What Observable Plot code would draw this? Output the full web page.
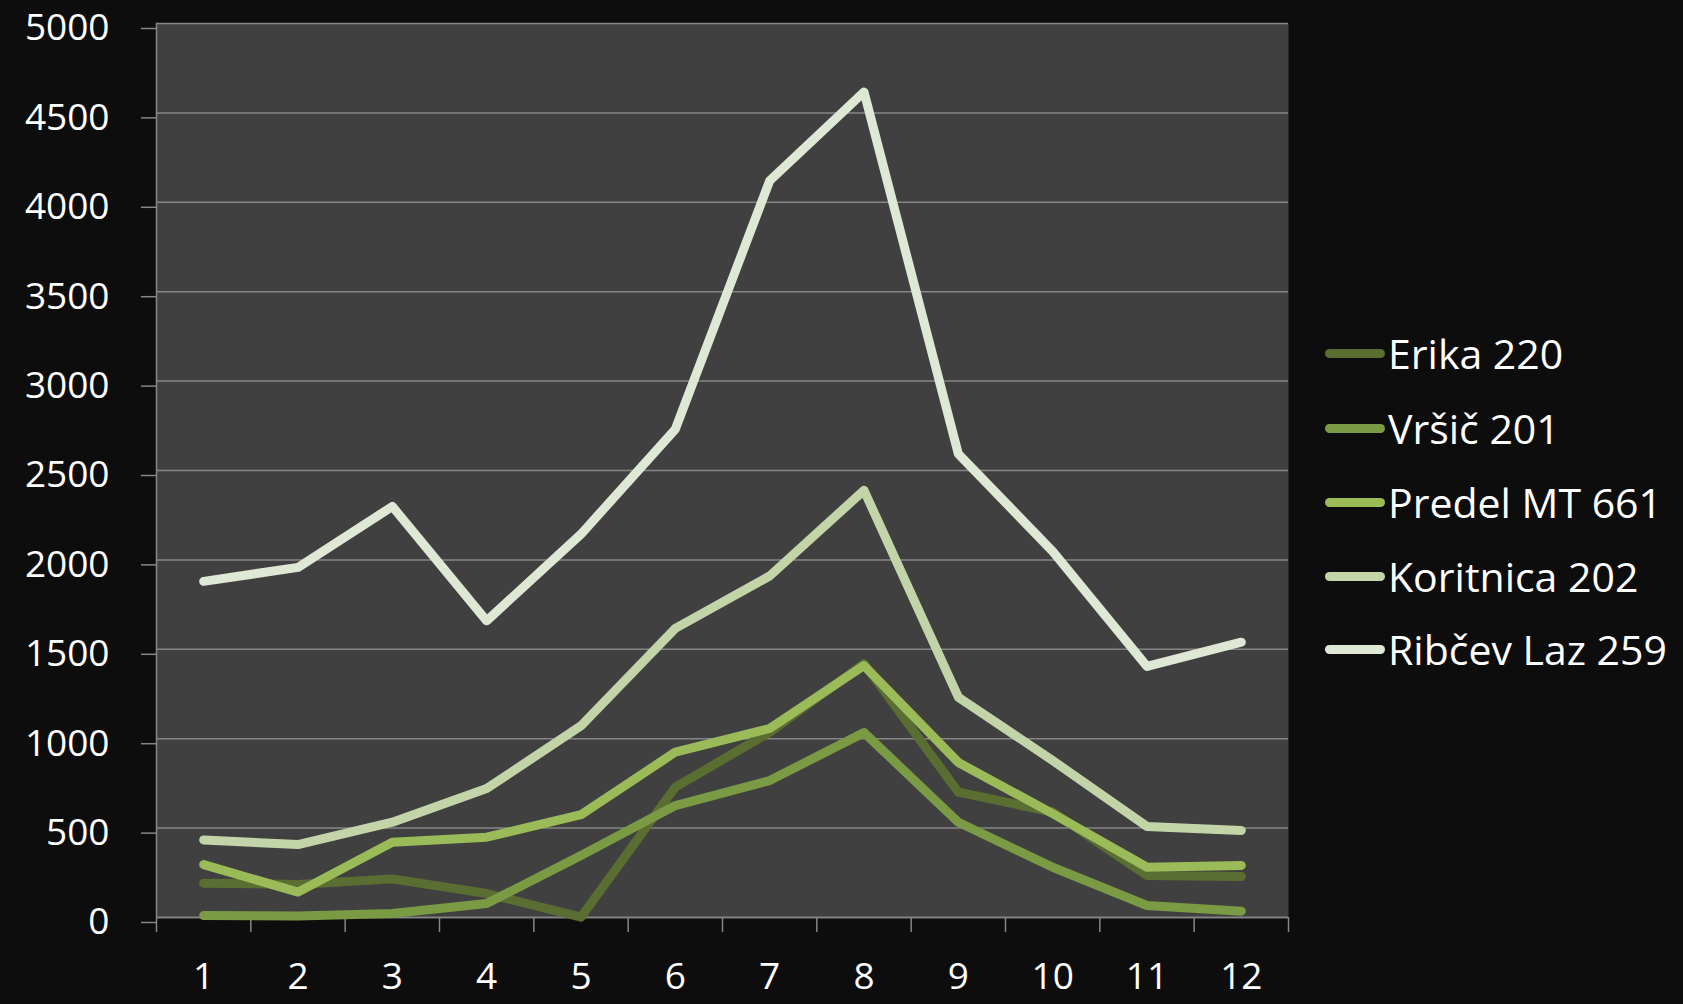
<!DOCTYPE html>
<html>
<head>
<meta charset="utf-8">
<script src="https://cdn.jsdelivr.net/npm/d3@7"></script>
<script src="https://cdn.jsdelivr.net/npm/@observablehq/plot@0.6"></script>
<style>
  html, body { margin: 0; padding: 0; background: #0d0d0d; }
  body { width: 1683px; height: 1004px; position: relative; overflow: hidden; font-family: "Open Sans", sans-serif; }
  #chart { position: absolute; left: 0; top: 0; }
  #legend { position: absolute; left: 1325px; top: 0; color: #fff; font-size: 41px; }
  .row { position: absolute; left: 0; display: flex; align-items: center; white-space: nowrap; transform: translateY(-50%); }
  .swatch { width: 60px; height: 9px; border-radius: 5px; margin-right: 3px; }
</style>
</head>
<body>
<div id="chart"></div>
<div id="legend"></div>
<script>
const months = [1, 2, 3, 4, 5, 6, 7, 8, 9, 10, 11, 12];
const seriesNames = ["Erika 220", "Vršič 201", "Predel MT 661", "Koritnica 202", "Ribčev Laz 259"];
const erika     = [192, 185, 216, 134, 2, 729, 1036, 1420, 701, 590, 235, 229];
const vrsic     = [11, 8, 22, 78, 347, 626, 766, 1034, 533, 281, 67, 35];
const predel    = [296, 142, 421, 449, 575, 925, 1057, 1409, 867, 581, 281, 291];
const koritnica = [434, 408, 533, 721, 1072, 1617, 1910, 2389, 1232, 878, 509, 487];
const ribcev    = [1880, 1958, 2299, 1659, 2144, 2731, 4120, 4617, 2593, 2048, 1404, 1540];
const yTicks = [0, 500, 1000, 1500, 2000, 2500, 3000, 3500, 4000, 4500, 5000];
const colors = ["#5a6e31", "#7a9a43", "#9bbb59", "#c3d5a8", "#dfe8d4"];

const seriesValues = [erika, vrsic, predel, koritnica, ribcev];
const data = [];
seriesNames.forEach((name, i) => {
  months.forEach((m, j) => data.push({series: name, month: m, value: seriesValues[i][j]}));
});
const boundaries = [0.5, ...months.map(m => m + 0.5)];

const chart = Plot.plot({
  width: 1300,
  height: 1004,
  marginLeft: 156,
  marginRight: 12,
  marginTop: 23,
  marginBottom: 87,
  style: {background: "transparent", color: "#ffffff", fontFamily: "'Open Sans', sans-serif", fontSize: "38px"},
  x: {domain: [0.5, 12.5]},
  y: {domain: [0, 5000]},
  color: {domain: seriesNames, range: colors},
  marks: [
    Plot.frame({fill: "#404040", stroke: null}),
    Plot.gridY(yTicks, {stroke: "#868686", strokeOpacity: 1, strokeWidth: 1.5}),
    Plot.axisY(yTicks, {tickSize: 15, tickPadding: 32, stroke: "#868686", strokeWidth: 1.5, tickFormat: d => String(d), fill: "#ffffff", fontSize: 37, dy: 5, label: null}),
    Plot.axisX(boundaries, {tickSize: 15, stroke: "#868686", strokeWidth: 1.5, tickFormat: () => "", label: null}),
    Plot.axisX(months, {tickSize: 0, tickPadding: 45, tickFormat: d => String(d), fill: "#ffffff", fontSize: 37, label: null}),
    Plot.ruleX([0.5], {stroke: "#868686", strokeWidth: 1.5}),
    Plot.ruleY([0], {stroke: "#868686", strokeWidth: 1.5}),
    Plot.line(data, {x: "month", y: "value", z: "series", stroke: "series", strokeWidth: 9, strokeLinecap: "round", strokeLinejoin: "round"})
  ]
});
document.getElementById("chart").appendChild(chart);

const legendRowsY = [353, 428, 502, 576, 649];
const legend = document.getElementById("legend");
seriesNames.forEach((name, i) => {
  const row = document.createElement("div");
  row.className = "row";
  row.style.top = legendRowsY[i] + "px";
  const sw = document.createElement("div");
  sw.className = "swatch";
  sw.style.background = colors[i];
  const label = document.createElement("span");
  label.textContent = name;
  row.appendChild(sw);
  row.appendChild(label);
  legend.appendChild(row);
});
</script>
</body>
</html>
